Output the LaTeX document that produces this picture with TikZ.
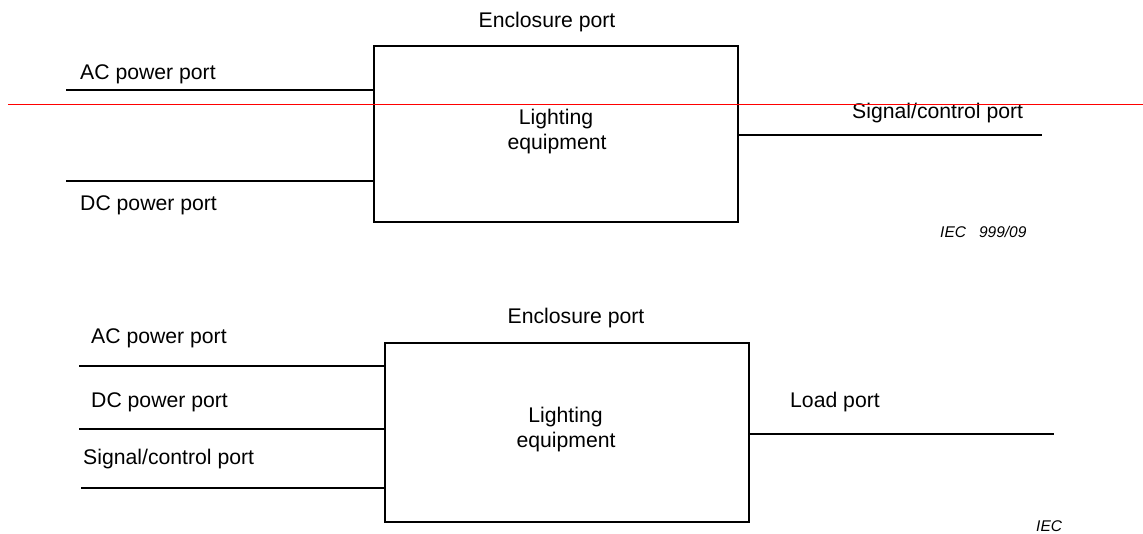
\documentclass[tikz,border=0pt]{standalone}
\usepackage{fontspec}
\setmainfont{Liberation Sans}
\begin{document}
\begin{tikzpicture}[x=1pt,y=-1pt,
  wire/.style={line width=1.9pt,black},
  boxnode/.style={draw,line width=1.9pt,minimum width=364pt,inner sep=0pt},
  lbl/.style={inner sep=0pt,font=\fontsize{21.2}{25}\selectfont},
  iec/.style={inner sep=0pt,font=\fontsize{15.5}{18}\selectfont\itshape},
  redline/.style={line width=1.8pt,color=red}]
\useasboundingbox (0,0) rectangle (1143,534);

% ---------- top diagram ----------
\node[boxnode,minimum height=176pt] (box1) at (556,134) {};
\node[lbl,anchor=base] (enc1) at (547,27.3) {Enclosure port};
\node[lbl,anchor=base] (lt1a) at (556,124.5) {Lighting};
\node[lbl,anchor=base] (lt1b) at (557,150) {equipment};
\node[lbl,anchor=base west] (ac1l) at (80,80) {AC power port};
\node[lbl,anchor=base west] (dc1l) at (80,210.7) {DC power port};
\node[lbl,anchor=base west] (sc1l) at (852,119) {Signal/control port};
\node[iec,anchor=base west] (iec1) at (940,237.3) {IEC\hspace{13pt}999/09};
\coordinate (ac1) at (66,90);
\coordinate (dc1) at (66,181);
\coordinate (sc1) at (1042,135);
\draw[wire] (ac1) -- (ac1 -| box1.west);
\draw[wire] (dc1) -- (dc1 -| box1.west);
\draw[wire] (sc1 -| box1.east) -- (sc1);

% red line
\coordinate (r1) at (8,104.5);
\coordinate (r2) at (1143,104.5);
\draw[redline] (r1) -- (r2);

% ---------- bottom diagram ----------
\node[boxnode,minimum height=179pt] (box2) at (567,432.5) {};
\node[lbl,anchor=base] (enc2) at (576,324) {Enclosure port};
\node[lbl,anchor=base] (lt2a) at (565.5,422.7) {Lighting};
\node[lbl,anchor=base] (lt2b) at (566,447.3) {equipment};
\node[lbl,anchor=base west] (ac2l) at (91,344) {AC power port};
\node[lbl,anchor=base west] (dc2l) at (91,407.7) {DC power port};
\node[lbl,anchor=base west] (sc2l) at (83,464) {Signal/control port};
\node[lbl,anchor=base west] (ld2l) at (790,407.7) {Load port};
\node[iec,anchor=base west] (iec2) at (1036,531.5) {IEC};
\coordinate (ac2) at (79,366);
\coordinate (dc2) at (79,429);
\coordinate (sc2) at (81,488);
\coordinate (ld2) at (1054,434);
\draw[wire] (ac2) -- (ac2 -| box2.west);
\draw[wire] (dc2) -- (dc2 -| box2.west);
\draw[wire] (sc2) -- (sc2 -| box2.west);
\draw[wire] (ld2 -| box2.east) -- (ld2);
\end{tikzpicture}
\end{document}
